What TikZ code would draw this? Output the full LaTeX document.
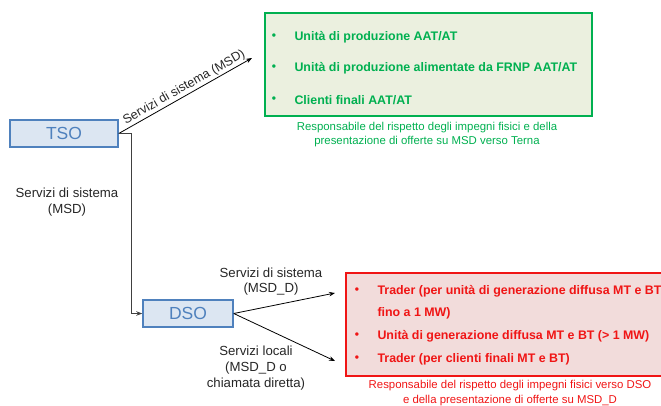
\documentclass[tikz,border=0pt]{standalone}
\usepackage{fontspec}
\setmainfont{Liberation Sans}
\usetikzlibrary{arrows.meta}

\definecolor{tsoblue}{HTML}{4F81BD}
\definecolor{tsofill}{HTML}{DCE6F2}
\definecolor{msdgreen}{HTML}{00B050}
\definecolor{msdfill}{HTML}{EBF0DF}
\definecolor{dsored}{HTML}{F01515}
\definecolor{dsofill}{HTML}{F2DCDB}

\tikzset{
    opbox/.style={draw=tsoblue, fill=tsofill, line width=1.5pt, text=tsoblue,
        font=\fontsize{17.5}{17.5}\selectfont, inner sep=0pt, minimum height=27pt},
    flow/.style={-{Stealth[length=6pt, width=4.5pt]}, black, line width=0.8pt},
    lbl/.style={font=\fontsize{13.2}{15.8}\selectfont, align=center, text=black!85},
    itemtxt/.style={font=\bfseries\fontsize{12.4}{14}\selectfont, anchor=west},
    dot/.style={font=\bfseries\fontsize{12}{12}\selectfont},
    note/.style={font=\fontsize{11.4}{14.5}\selectfont, align=center},
}

\begin{document}
\begin{tikzpicture}[x=1pt, y=-1pt]
    \useasboundingbox (0, 0) rectangle (661, 405);
    \clip (0, 0) rectangle (661, 405);

    % Operators
    \node[opbox, minimum width=108pt] (tso) at (64, 133.5) {TSO};
    \node[opbox, minimum width=90pt] (dso) at (188, 313.5) {DSO};

    % TSO side (MSD)
    \node[draw=msdgreen, fill=msdfill, line width=1.8pt, inner sep=0pt,
        minimum width=327pt, minimum height=103pt] (msdbox) at (428.5, 64.5) {};
    \foreach \y/\txt in {37/{Unità di produzione AAT/AT},
                         68/{Unità di produzione alimentate da FRNP AAT/AT},
                         100/{Clienti finali AAT/AT}} {
        \node[dot, text=msdgreen] at (274, \y) {•};
        \node[itemtxt, text=msdgreen] at (291, \y) {\txt};
    }
    \node[note, text=msdgreen] (msdnote) at (427, 134.5)
        {Responsabile del rispetto degli impegni fisici e della\\presentazione di offerte su MSD verso Terna};

    % DSO side (MSD_D)
    \node[draw=dsored, fill=dsofill, line width=1.8pt, inner sep=0pt,
        minimum width=360pt, minimum height=103pt] (dsobox) at (526, 324.5) {};
    \foreach \y/\txt in {291/{Trader (per unità di generazione diffusa MT e BT},
                         336/{Unità di generazione diffusa MT e BT (> 1 MW)},
                         359/{Trader (per clienti finali MT e BT)}} {
        \node[dot, text=dsored] at (357, \y) {•};
        \node[itemtxt, text=dsored] at (374, \y) {\txt};
    }
    \node[itemtxt, text=dsored] at (374, 313) {fino a 1 MW)};
    \node[note, text=dsored] (dsonote) at (510, 393)
        {Responsabile del rispetto degli impegni fisici verso DSO\\e della presentazione di offerte su MSD\_D};

    % Connectors
    \coordinate (msdend) at (252, 58);
    \coordinate (msddend) at (335, 293);
    \coordinate (localend) at (335, 361);
    \draw[flow] (tso.east) -- node[lbl, font=\fontsize{12.6}{14}\selectfont, sloped, above, pos=0.52, inner sep=1.5pt] {Servizi di sistema (MSD)} (msdend);
    \draw[flow, black!75] (tso.east) -- ++(13, 0) |- (dso.west);
    \draw[flow] (dso.east) -- (msddend);
    \draw[flow] (dso.east) -- (localend);

    % Labels
    \node[lbl] (tsolbl) at (67, 202) {Servizi di sistema\\(MSD)};
    \node[lbl] (msddlbl) at (271, 281.5) {Servizi di sistema\\(MSD\_D)};
    \node[lbl] (locallbl) at (256, 368) {Servizi locali\\(MSD\_D o\\chiamata diretta)};
\end{tikzpicture}
\end{document}
